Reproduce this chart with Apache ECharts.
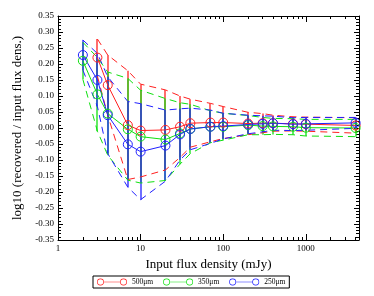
<!DOCTYPE html>
<html><head><meta charset="utf-8">
<script src="https://cdn.jsdelivr.net/npm/echarts@6/dist/echarts.min.js"></script>
<style>html,body{margin:0;padding:0;background:#fff}#c{width:374px;height:296px}</style>
</head><body><div id="c"></div>
<script>
// flux bins (mJy)
const xs = [2,3,4,7,10,20,30,40,70,100,200,300,400,700,1000,4000];
// 500 micron
const val500 = [null,0.220,0.134,0.009,-0.008,-0.006,0.004,0.015,0.017,0.017,0.014,0.015,0.015,0.013,0.012,0.008];
const err500 = [null,0.058,0.094,0.170,0.145,0.125,0.096,0.075,0.060,0.050,0.035,0.030,0.025,0.022,0.022,0.024];
// 350 micron
const val350 = [0.210,0.105,0.045,-0.004,-0.027,-0.036,-0.017,-0.003,0.004,0.004,0.009,0.006,0.005,0.004,0.001,0.000];
const err350 = [0.058,0.115,0.130,0.159,0.145,0.128,0.096,0.077,0.050,0.042,0.030,0.027,0.025,0.025,0.026,0.027];
// 250 micron
const val250 = [0.228,0.150,0.040,-0.051,-0.074,-0.055,-0.020,-0.003,0.004,0.006,0.011,0.013,0.015,0.012,0.013,0.016];
const err250 = [0.047,0.083,0.120,0.134,0.150,0.111,0.080,0.065,0.052,0.040,0.029,0.025,0.022,0.020,0.020,0.017];

const majorX = [1,10,100,1000];
const minorX = [2,3,4,5,6,7,8,9,20,30,40,50,60,70,80,90,200,300,400,500,600,700,800,900,2000,3000,4000];
const seriesNames = ['500\u03bcm','350\u03bcm','250\u03bcm'];
const colors = ['#ff2020','#10e010','#2020ff'];

const FONT = 'Liberation Serif';
const XMIN = 1, XMAX = 4400, YMIN = -0.35, YMAX = 0.35;

function xAxisDef(pos, len, ticks, labels, line){
  return {type:'log', logBase:10, min:XMIN, max:XMAX, position:pos,
    axisLine:{show:line, onZero:false, lineStyle:{color:'#000', width:1}},
    axisTick:{show:true, inside:true, length:len, customValues:ticks, lineStyle:{color:'#000'}},
    axisLabel:{show:labels, customValues:majorX, margin:4, color:'#000', fontFamily:FONT, fontSize:9, formatter:v=>String(Math.round(v))},
    splitLine:{show:false}, minorTick:{show:false}};
}
const xAxes = [
  Object.assign(xAxisDef('bottom',6,majorX,true,true),{name:'Input flux density (mJy)', nameLocation:'middle', nameGap:14, nameTextStyle:{fontFamily:FONT, fontSize:13, color:'#000'}}),
  xAxisDef('bottom',3,minorX,false,false),
  xAxisDef('top',6,majorX,false,true),
  xAxisDef('top',3,minorX,false,false)
];
function yAxisDef(pos, labels){
  return {type:'value', min:YMIN, max:YMAX, interval:0.05, position:pos,
    axisLine:{show:true, onZero:false, lineStyle:{color:'#000', width:1}},
    axisTick:{show:true, inside:true, length:5, lineStyle:{color:'#000'}},
    minorTick:{show:true, splitNumber:5, length:3, lineStyle:{color:'#000'}},
    axisLabel:{show:labels, margin:4, color:'#000', fontFamily:FONT, fontSize:9, formatter:v=>v.toFixed(2)},
    splitLine:{show:false}, minorSplitLine:{show:false}};
}
const yAxes = [
  Object.assign(yAxisDef('left',true),{name:'log10 (recovered / input flux dens.)', nameLocation:'middle', nameGap:29, nameTextStyle:{fontFamily:FONT, fontSize:13, color:'#000'}}),
  yAxisDef('right',false)
];

function build(name, vals, errs, color){
  const out = [];
  const ebar = [], up = [], lo = [], main = [];
  for (let i=0;i<xs.length;i++){
    if (vals[i]==null) continue;
    ebar.push([xs[i], vals[i]-errs[i], vals[i]+errs[i]]);
    up.push([xs[i], vals[i]+errs[i]]);
    lo.push([xs[i], vals[i]-errs[i]]);
    main.push([xs[i], vals[i]]);
  }
  out.push({type:'custom', name:name+'_err', silent:true, data:ebar, encode:{x:0,y:[1,2]}, z:3,
    renderItem:(p,api)=>{
      const a=api.coord([api.value(0),api.value(1)]), b=api.coord([api.value(0),api.value(2)]);
      const x=Math.round(a[0]);
      return {type:'line', shape:{x1:x,y1:a[1],x2:x,y2:b[1]}, style:{stroke:color, fill:null, lineWidth:1.3}};}});
  [up,lo].forEach((d,k)=>out.push({type:'line', name:name+(k?'_lo':'_up'), data:d, symbol:'none', silent:true,
    lineStyle:{color:color, width:1, type:[7,5]}}));
  out.push({type:'line', name:name, data:main, symbol:'circle', symbolSize:9, color:color,
    lineStyle:{color:color, width:1}, itemStyle:{color:'rgba(0,0,0,0)', borderColor:color, borderWidth:1}});
  return out;
}
const icon = 'path://M0.5,5A4.5,4.5 0 1,1 9.5,5A4.5,4.5 0 1,1 0.5,5ZM1.4,5A3.6,3.6 0 1,0 8.6,5A3.6,3.6 0 1,0 1.4,5ZM9.5,4.6L30.5,4.6L30.5,5.4L9.5,5.4ZM30.5,5A4.5,4.5 0 1,1 39.5,5A4.5,4.5 0 1,1 30.5,5ZM31.4,5A3.6,3.6 0 1,0 38.6,5A3.6,3.6 0 1,0 31.4,5Z';

const series = [];
series.push(...build(seriesNames[0], val500, err500, colors[0]));
series.push(...build(seriesNames[1], val350, err350, colors[1]));
series.push(...build(seriesNames[2], val250, err250, colors[2]));

const chart = echarts.init(document.getElementById('c'), null, {renderer:'canvas'});
chart.setOption({
  animation:false, backgroundColor:'#fff',
  grid:{left:58, right:15, top:16, bottom:56},
  xAxis:xAxes,
  yAxis:yAxes,
  legend:{left:93, top:276, padding:[2,4,2,4], itemGap:10, itemWidth:30, itemHeight:8, icon:icon,
    borderColor:'#000', borderWidth:1, borderRadius:0,
    data:seriesNames.map((n,i)=>({name:n, icon:icon, itemStyle:{color:colors[i], borderWidth:0}})),
    textStyle:{fontFamily:FONT, fontSize:7.5, color:'#000'}},
  series:series
});
</script></body></html>
